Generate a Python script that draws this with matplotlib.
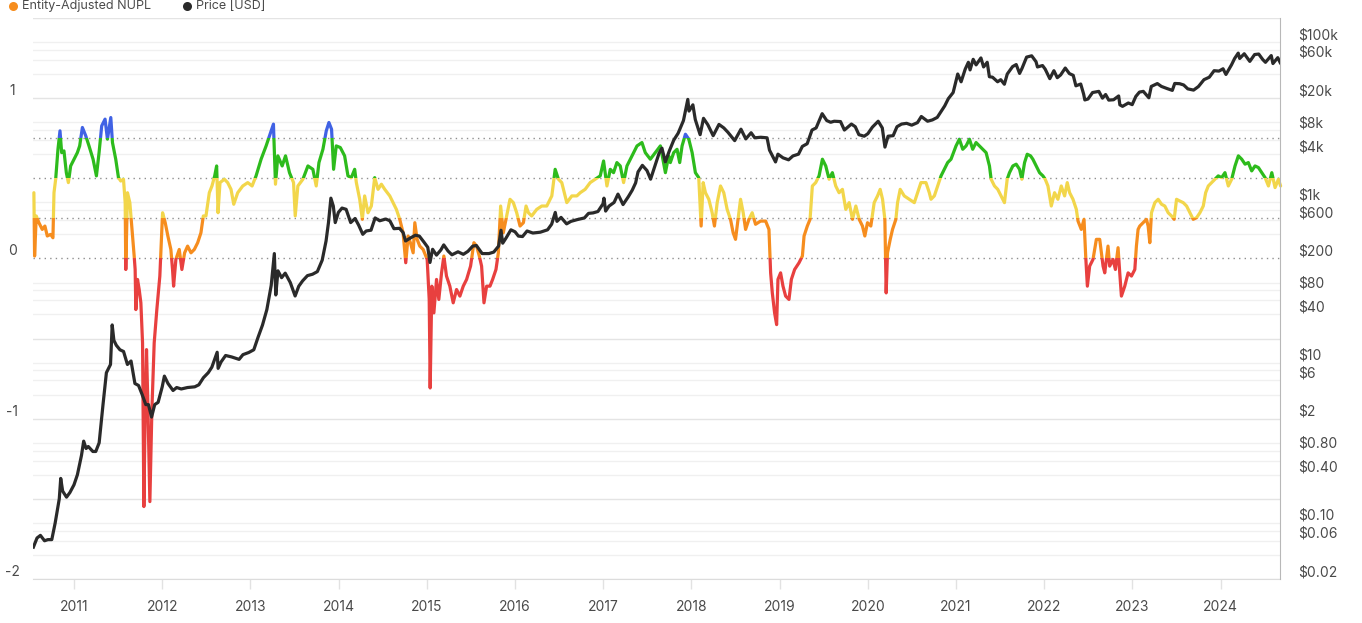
import numpy as np
import pandas as pd
import matplotlib
matplotlib.use("Agg")
import matplotlib.pyplot as plt
from matplotlib.patches import Rectangle
from matplotlib.lines import Line2D
from matplotlib.ticker import FixedLocator, FixedFormatter, NullLocator

plt.rcParams['font.family'] = ['Inter', 'DejaVu Sans']

# ---- Entity-Adjusted NUPL (decimal year, value) ----
nupl_year = [
    2010.545, 2010.553, 2010.572, 2010.602, 2010.640, 2010.670, 2010.697, 2010.735, 2010.761, 2010.773,
    2010.792, 2010.818, 2010.841, 2010.860, 2010.886, 2010.913, 2010.936, 2010.962, 2011.000, 2011.038,
    2011.064, 2011.095, 2011.133, 2011.170, 2011.216, 2011.254, 2011.284, 2011.314, 2011.352, 2011.379,
    2011.417, 2011.436, 2011.473, 2011.504, 2011.530, 2011.561, 2011.580, 2011.587, 2011.606, 2011.633,
    2011.655, 2011.682, 2011.693, 2011.701, 2011.720, 2011.739, 2011.758, 2011.777, 2011.792, 2011.807,
    2011.822, 2011.837, 2011.860, 2011.883, 2011.909, 2011.939, 2011.973, 2012.004, 2012.034, 2012.064,
    2012.098, 2012.117, 2012.129, 2012.155, 2012.193, 2012.223, 2012.254, 2012.288, 2012.326, 2012.364,
    2012.402, 2012.439, 2012.466, 2012.496, 2012.534, 2012.564, 2012.595, 2012.617, 2012.633, 2012.655,
    2012.705, 2012.742, 2012.780, 2012.811, 2012.856, 2012.913, 2012.970, 2013.019, 2013.064, 2013.121,
    2013.178, 2013.223, 2013.261, 2013.284, 2013.311, 2013.360, 2013.398, 2013.443, 2013.489, 2013.508,
    2013.538, 2013.595, 2013.652, 2013.708, 2013.746, 2013.777, 2013.822, 2013.860, 2013.890, 2013.920,
    2013.943, 2013.973, 2014.019, 2014.068, 2014.106,
    2014.144, 2014.182, 2014.201, 2014.239, 2014.269, 2014.295, 2014.333, 2014.371, 2014.409, 2014.447,
    2014.485, 2014.523, 2014.580, 2014.617, 2014.655, 2014.693, 2014.731, 2014.761, 2014.788, 2014.814,
    2014.845, 2014.864, 2014.890, 2014.920, 2014.958, 2015.004, 2015.027, 2015.038, 2015.057, 2015.080,
    2015.110, 2015.136, 2015.167, 2015.193, 2015.223, 2015.261, 2015.299, 2015.337, 2015.375, 2015.413,
    2015.451, 2015.496, 2015.534, 2015.564, 2015.595, 2015.621, 2015.648, 2015.678, 2015.716, 2015.746,
    2015.784, 2015.811, 2015.837, 2015.867, 2015.905, 2015.943, 2015.981, 2016.019, 2016.057, 2016.095,
    2016.125, 2016.152, 2016.189, 2016.246, 2016.303, 2016.360, 2016.417, 2016.455, 2016.492, 2016.530,
    2016.587, 2016.644, 2016.701, 2016.739, 2016.795, 2016.852, 2016.909, 2016.966, 2017.004, 2017.042,
    2017.080, 2017.117, 2017.155, 2017.193, 2017.231, 2017.269, 2017.326, 2017.383, 2017.439, 2017.477,
    2017.534, 2017.591, 2017.648, 2017.705, 2017.742,
    2017.761, 2017.799, 2017.837, 2017.867, 2017.894, 2017.932, 2017.970, 2018.008, 2018.045, 2018.083,
    2018.110, 2018.133, 2018.159, 2018.197, 2018.235, 2018.261, 2018.292, 2018.330, 2018.367, 2018.405,
    2018.443, 2018.473, 2018.500, 2018.519, 2018.557, 2018.587, 2018.614, 2018.652, 2018.689, 2018.727,
    2018.784, 2018.841, 2018.879, 2018.898, 2018.917, 2018.943, 2018.966, 2018.981, 2019.011, 2019.038,
    2019.068, 2019.106, 2019.133, 2019.170, 2019.220, 2019.258, 2019.277, 2019.314, 2019.345, 2019.371,
    2019.409, 2019.447, 2019.485, 2019.523, 2019.561, 2019.598, 2019.636, 2019.674, 2019.712, 2019.750,
    2019.788, 2019.826, 2019.864, 2019.902, 2019.939, 2019.966, 2019.996, 2020.034, 2020.072, 2020.110,
    2020.140, 2020.167, 2020.193, 2020.208, 2020.223, 2020.254, 2020.280, 2020.318, 2020.337, 2020.367,
    2020.413, 2020.470, 2020.527, 2020.564, 2020.602, 2020.659, 2020.697, 2020.716, 2020.754, 2020.792,
    2020.830, 2020.867, 2020.905, 2020.943, 2021.000, 2021.038, 2021.076, 2021.114, 2021.152, 2021.189,
    2021.227, 2021.265, 2021.303, 2021.341, 2021.379,
    2021.398, 2021.436, 2021.473, 2021.511, 2021.549, 2021.580, 2021.606, 2021.644, 2021.682, 2021.720,
    2021.746, 2021.777, 2021.807, 2021.845, 2021.871, 2021.909, 2021.947, 2021.985, 2022.011, 2022.042,
    2022.080, 2022.117, 2022.155, 2022.193, 2022.231, 2022.261, 2022.288, 2022.326, 2022.364, 2022.383,
    2022.420, 2022.451, 2022.470, 2022.489, 2022.515, 2022.553, 2022.591, 2022.629, 2022.667, 2022.686,
    2022.723, 2022.742, 2022.780, 2022.807, 2022.837, 2022.856, 2022.875, 2022.913, 2022.951, 2022.989,
    2023.027, 2023.045, 2023.064, 2023.083, 2023.121, 2023.159, 2023.178, 2023.197, 2023.216, 2023.254,
    2023.292, 2023.330, 2023.367, 2023.405, 2023.443, 2023.473, 2023.500, 2023.538, 2023.576, 2023.614,
    2023.652, 2023.689, 2023.727, 2023.765, 2023.803, 2023.830, 2023.860, 2023.898, 2023.936, 2023.973,
    2024.011, 2024.049, 2024.087, 2024.125, 2024.163, 2024.201, 2024.239, 2024.277, 2024.314, 2024.352,
    2024.390, 2024.428, 2024.466, 2024.504, 2024.542, 2024.580, 2024.617, 2024.655, 2024.680,
]
nupl_value = [
    0.41, 0.015, 0.265, 0.223, 0.181, 0.202, 0.140, 0.150, 0.129, 0.41,
    0.494, 0.681, 0.796, 0.660, 0.671, 0.535, 0.473, 0.577, 0.619, 0.660,
    0.702, 0.817, 0.765, 0.702, 0.619, 0.515, 0.660, 0.827, 0.869, 0.744,
    0.879, 0.723, 0.619, 0.504, 0.483, 0.494, 0.348, -0.069, 0.41, 0.348,
    0.202, 0.015, -0.069, -0.319, -0.131, -0.194, -0.277, -0.527, -1.548, -0.944,
    -0.569, -0.902, -1.517, -0.944, -0.527, -0.319, -0.110, 0.285, 0.223, 0.140,
    0.056, -0.069, -0.173, -0.006, 0.056, -0.069, 0.035, 0.077, 0.035, 0.056,
    0.098, 0.160, 0.265, 0.265, 0.41, 0.452, 0.515, 0.577, 0.285, 0.473,
    0.494, 0.473, 0.431, 0.338, 0.41, 0.452, 0.473, 0.452, 0.515, 0.619,
    0.702, 0.775, 0.838, 0.463, 0.640, 0.577, 0.640, 0.535, 0.473, 0.265,
    0.452, 0.494, 0.577, 0.556, 0.452, 0.598, 0.681, 0.796, 0.848, 0.806,
    0.556, 0.702, 0.692, 0.640, 0.515,
    0.504, 0.556, 0.473, 0.369, 0.244, 0.390, 0.285, 0.327, 0.504, 0.431,
    0.463, 0.431, 0.390, 0.348, 0.306, 0.244, 0.160, -0.027, 0.140, 0.098,
    0.035, 0.223, 0.119, 0.077, 0.056, -0.006, -0.256, -0.808, -0.173, -0.340,
    -0.131, -0.256, -0.090, 0.015, -0.110, -0.173, -0.277, -0.194, -0.235, -0.173,
    -0.131, -0.048, 0.098, 0.077, 0.015, -0.048, -0.277, -0.173, -0.173, -0.131,
    -0.069, 0.035, 0.327, 0.160, 0.265, 0.369, 0.348, 0.285, 0.202, 0.223,
    0.327, 0.285, 0.265, 0.306, 0.327, 0.327, 0.390, 0.556, 0.494, 0.473,
    0.348, 0.390, 0.390, 0.410, 0.431, 0.473, 0.494, 0.515, 0.608, 0.452,
    0.556, 0.535, 0.598, 0.577, 0.473, 0.577, 0.640, 0.702, 0.723, 0.660,
    0.619, 0.660, 0.702, 0.535, 0.640,
    0.598, 0.660, 0.681, 0.598, 0.702, 0.775, 0.744, 0.660, 0.535, 0.504,
    0.202, 0.473, 0.410, 0.369, 0.285, 0.202, 0.348, 0.452, 0.410, 0.306,
    0.244, 0.160, 0.119, 0.202, 0.369, 0.285, 0.181, 0.244, 0.285, 0.213,
    0.233, 0.233, 0.181, -0.090, -0.215, -0.340, -0.413, -0.131, -0.090, -0.173,
    -0.235, -0.256, -0.131, -0.069, -0.027, 0.015, 0.140, 0.202, 0.244, 0.452,
    0.473, 0.515, 0.619, 0.577, 0.494, 0.535, 0.452, 0.410, 0.431, 0.306,
    0.348, 0.244, 0.327, 0.244, 0.202, 0.140, 0.223, 0.202, 0.348, 0.390,
    0.431, 0.369, 0.244, -0.215, 0.035, 0.119, 0.181, 0.244, 0.348, 0.431,
    0.390, 0.369, 0.348, 0.410, 0.473, 0.473, 0.410, 0.369, 0.390, 0.452,
    0.515, 0.556, 0.598, 0.619, 0.702, 0.744, 0.681, 0.702, 0.744, 0.681,
    0.723, 0.702, 0.681, 0.660, 0.577,
    0.494, 0.452, 0.431, 0.390, 0.348, 0.494, 0.535, 0.577, 0.588, 0.556,
    0.494, 0.598, 0.650, 0.640, 0.619, 0.577, 0.535, 0.515, 0.494, 0.452,
    0.327, 0.410, 0.369, 0.452, 0.390, 0.473, 0.410, 0.369, 0.306, 0.233,
    0.181, 0.244, 0.015, -0.173, -0.048, -0.006, 0.119, 0.119, -0.048, -0.090,
    0.077, -0.048, -0.006, -0.069, 0.067, -0.090, -0.235, -0.173, -0.090, -0.110,
    -0.069, 0.077, 0.181, 0.202, 0.223, 0.244, 0.202, 0.098, 0.285, 0.348,
    0.369, 0.338, 0.327, 0.285, 0.265, 0.244, 0.369, 0.358, 0.348, 0.327,
    0.285, 0.244, 0.254, 0.285, 0.327, 0.410, 0.452, 0.473, 0.494, 0.515,
    0.504, 0.535, 0.452, 0.494, 0.577, 0.640, 0.619, 0.588, 0.598, 0.546,
    0.577, 0.567, 0.535, 0.504, 0.452, 0.535, 0.442, 0.494, 0.452,
]

# ---- Price [USD] ----
price_date = [
    '2010-07-17', '2010-08-01', '2010-08-15', '2010-09-01', '2010-09-15', '2010-10-01', '2010-10-15', '2010-11-01',
    '2010-11-07', '2010-11-15', '2010-12-01', '2010-12-15', '2011-01-01', '2011-01-15', '2011-02-01', '2011-02-10',
    '2011-02-20', '2011-03-01', '2011-03-20', '2011-04-01', '2011-04-15', '2011-05-01', '2011-05-15', '2011-06-01',
    '2011-06-08', '2011-06-15', '2011-06-25', '2011-07-10', '2011-07-25', '2011-08-10', '2011-08-25', '2011-09-10',
    '2011-09-25', '2011-10-10', '2011-10-25', '2011-11-05', '2011-11-18', '2011-12-01', '2011-12-15', '2012-01-01',
    '2012-01-10', '2012-01-25', '2012-02-15', '2012-03-01', '2012-03-20', '2012-04-15', '2012-05-15', '2012-06-01',
    '2012-06-20', '2012-07-10', '2012-07-25', '2012-08-16', '2012-08-20', '2012-09-01', '2012-09-20', '2012-10-15',
    '2012-11-15', '2012-12-01', '2012-12-25', '2013-01-15', '2013-02-01', '2013-02-20', '2013-03-10', '2013-03-28',
    '2013-04-10', '2013-04-16', '2013-04-25', '2013-05-10', '2013-05-25', '2013-06-15', '2013-07-05', '2013-07-20',
    '2013-08-05', '2013-08-25', '2013-09-15', '2013-10-05', '2013-10-25', '2013-11-10', '2013-11-20', '2013-11-30',
    '2013-12-10', '2013-12-18', '2013-12-31', '2014-01-15', '2014-02-01', '2014-02-20', '2014-03-10', '2014-03-25',
    '2014-04-11', '2014-04-25', '2014-05-15', '2014-06-01', '2014-06-20', '2014-07-15', '2014-08-01', '2014-08-18',
    '2014-09-10', '2014-09-25', '2014-10-05', '2014-10-25', '2014-11-15', '2014-12-01', '2014-12-20', '2015-01-05',
    '2015-01-14', '2015-01-25', '2015-02-10', '2015-02-28', '2015-03-12', '2015-03-30', '2015-04-15', '2015-05-10',
    '2015-06-01', '2015-06-20', '2015-07-10', '2015-07-25', '2015-08-18', '2015-09-15', '2015-10-05', '2015-10-25',
    '2015-11-04', '2015-11-11', '2015-11-25', '2015-12-15', '2016-01-01', '2016-01-15', '2016-02-01', '2016-02-20',
    '2016-03-15', '2016-04-15', '2016-05-15', '2016-06-01', '2016-06-16', '2016-06-23', '2016-07-10', '2016-08-02',
    '2016-08-20', '2016-09-15', '2016-10-15', '2016-11-01', '2016-11-20', '2016-12-10', '2016-12-31', '2017-01-04',
    '2017-01-11', '2017-01-25', '2017-02-15', '2017-03-03', '2017-03-24', '2017-04-15', '2017-05-01', '2017-05-15',
    '2017-05-25', '2017-06-12', '2017-07-01', '2017-07-16', '2017-08-01', '2017-08-20', '2017-09-01', '2017-09-15',
    '2017-10-01', '2017-10-20', '2017-11-07', '2017-11-29', '2017-12-17', '2017-12-22', '2018-01-07', '2018-01-17',
    '2018-02-06', '2018-02-20', '2018-03-10', '2018-04-01', '2018-04-25', '2018-05-15', '2018-06-01', '2018-06-29',
    '2018-07-25', '2018-08-14', '2018-09-05', '2018-09-20', '2018-10-15', '2018-11-10', '2018-11-20', '2018-12-15',
    '2018-12-25', '2019-01-15', '2019-02-07', '2019-02-25', '2019-03-20', '2019-04-05', '2019-04-25', '2019-05-15',
    '2019-06-01', '2019-06-26', '2019-07-15', '2019-07-31', '2019-08-15', '2019-09-10', '2019-09-26', '2019-10-25',
    '2019-11-10', '2019-11-25', '2019-12-17', '2020-01-01', '2020-01-20', '2020-02-13', '2020-03-01', '2020-03-12',
    '2020-03-25', '2020-04-15', '2020-05-01', '2020-05-20', '2020-06-10', '2020-07-01', '2020-07-25', '2020-08-10',
    '2020-09-05', '2020-09-25', '2020-10-15', '2020-10-30', '2020-11-15', '2020-11-30', '2020-12-20', '2021-01-08',
    '2021-01-22', '2021-02-08', '2021-02-21', '2021-02-28', '2021-03-13', '2021-03-25', '2021-04-14', '2021-04-25',
    '2021-05-10', '2021-05-19', '2021-06-01', '2021-06-22', '2021-07-05', '2021-07-20', '2021-08-01', '2021-08-23',
    '2021-09-07', '2021-09-21', '2021-10-01', '2021-10-20', '2021-11-10', '2021-11-28', '2021-12-04', '2021-12-25',
    '2022-01-05', '2022-01-24', '2022-02-10', '2022-02-24', '2022-03-10', '2022-03-29', '2022-04-15', '2022-05-01',
    '2022-05-12', '2022-06-01', '2022-06-13', '2022-06-18', '2022-07-01', '2022-07-20', '2022-08-15', '2022-08-30',
    '2022-09-12', '2022-09-25', '2022-10-15', '2022-11-05', '2022-11-10', '2022-11-21', '2022-12-15', '2022-12-31',
    '2023-01-15', '2023-01-30', '2023-02-15', '2023-03-10', '2023-03-20', '2023-04-14', '2023-05-01', '2023-05-25',
    '2023-06-15', '2023-06-25', '2023-07-15', '2023-08-01', '2023-08-18', '2023-09-11', '2023-10-01', '2023-10-24',
    '2023-11-15', '2023-12-05', '2023-12-25', '2024-01-11', '2024-01-23', '2024-02-15', '2024-02-28', '2024-03-14',
    '2024-03-20', '2024-04-08', '2024-04-20', '2024-05-01', '2024-05-21', '2024-06-07', '2024-06-24', '2024-07-05',
    '2024-07-29', '2024-08-05', '2024-08-25', '2024-09-06', '2024-09-10',
]
price_usd = [
    0.05, 0.065, 0.07, 0.06, 0.062, 0.062, 0.10, 0.2,
    0.36, 0.25, 0.21, 0.24, 0.30, 0.40, 0.7, 1.05,
    0.85, 0.90, 0.78, 0.78, 1.0, 3.0, 7.5, 9.5,
    29.6, 19.0, 16.5, 14.5, 13.8, 9.5, 10.5, 5.5,
    5.2, 4.0, 3.0, 3.0, 2.1, 3.0, 3.2, 5.0,
    6.8, 5.5, 4.5, 4.9, 4.7, 4.9, 5.0, 5.3,
    6.5, 7.5, 8.8, 13.5, 8.5, 10.2, 12.3, 11.8,
    11.0, 12.6, 13.4, 14.5, 20.5, 29.5, 46, 92,
    230, 70, 140, 115, 131, 100, 68, 90,
    105, 122, 127, 137, 190, 330, 560, 1130,
    900, 560, 750, 850, 820, 560, 630, 520,
    400, 440, 450, 640, 590, 620, 590, 470,
    475, 420, 330, 360, 390, 380, 320, 275,
    178, 260, 220, 255, 295, 247, 222, 242,
    225, 245, 285, 290, 230, 230, 240, 285,
    450, 310, 360, 455, 430, 380, 375, 440,
    415, 425, 455, 535, 750, 580, 650, 540,
    580, 610, 640, 730, 740, 770, 960, 1130,
    780, 900, 1000, 1270, 940, 1180, 1420, 1750,
    2400, 2900, 2500, 1950, 2750, 4100, 4750, 3200,
    4350, 6000, 7300, 10500, 19300, 13800, 16500, 10800,
    7000, 11200, 9300, 6800, 9400, 8500, 7500, 5900,
    8200, 6200, 7400, 6400, 6500, 6400, 4500, 3200,
    4000, 3600, 3400, 3800, 4000, 5000, 5400, 8000,
    8500, 12800, 10500, 10000, 10300, 10200, 8000, 9500,
    8800, 7000, 6700, 7200, 8700, 10300, 8500, 4900,
    6700, 6800, 8800, 9500, 9700, 9200, 9900, 11800,
    10300, 10700, 11500, 13500, 16000, 19700, 23500, 40000,
    32000, 46000, 56000, 45000, 61000, 52000, 63500, 49000,
    56000, 37000, 36500, 32000, 34000, 29800, 40000, 49500,
    52500, 40700, 47000, 65000, 67500, 57000, 49000, 51000,
    46000, 35000, 44000, 36000, 39000, 47500, 40500, 38500,
    28500, 30000, 22500, 19000, 19500, 23500, 24300, 20000,
    22200, 18900, 19100, 21300, 16500, 15800, 17400, 16600,
    21000, 23800, 24300, 20200, 28000, 30400, 28000, 26300,
    25000, 30500, 30300, 29200, 26100, 25200, 27900, 34000,
    36500, 44000, 43500, 46500, 39500, 52000, 62500, 73000,
    62500, 71600, 64000, 57500, 70000, 71000, 60500, 56000,
    68000, 54000, 64000, 54000, 57500,
]

years = list(range(2011, 2025))
nupl_ticks = [-2, -1, 0, 1]
price_ticks = [0.02, 0.06, 0.1, 0.4, 0.8, 2, 6, 10, 40, 80, 200, 600,
               1000, 4000, 8000, 20000, 60000, 100000]
price_labels = ['$0.02', '$0.06', '$0.10', '$0.40', '$0.80', '$2', '$6', '$10', '$40', '$80',
                '$200', '$600', '$1k', '$4k', '$8k', '$20k', '$60k', '$100k']

# colour zones of the NUPL line
zones = [(-3.0, 0.0, '#e8403f'), (0.0, 0.25, '#f68d1e'), (0.25, 0.5, '#f2d64b'),
         (0.5, 0.75, '#2dbb1c'), (0.75, 3.0, '#4062e4')]


def to_year(dates):
    d = pd.to_datetime(dates)
    days = np.where(d.is_leap_year, 366.0, 365.0)
    return np.asarray(d.year + (d.dayofyear - 1) / days)


price_x = to_year(price_date)

fig = plt.figure(figsize=(13.62, 6.23), dpi=100)
ax = fig.add_axes([33 / 1362, 44 / 623, 1247 / 1362, 561 / 623])
ax.set_xlim(2010.535, 2024.673)
ax.set_ylim(-2, 1.5)


# NUPL and log price share the grid: price = 200 * 100**nupl
def price_to_nupl(p):
    return np.log10(p / 200.0) / 2.0


for e in range(-2, 6):
    for k in (1, 4, 6, 8):
        p = k * 10.0 ** e
        if 0.02 < p < 200000:
            ax.axhline(price_to_nupl(p), color='#f0f0f0', lw=1, zorder=0)
for v in (-2, -1.5, -1, -0.5, 1, 1.5):
    ax.axhline(v, color='#e4e4e4', lw=1, zorder=0.5)
for v in (0, 0.25, 0.5, 0.75):
    ax.axhline(v, color='#8f8f8f', lw=1, ls=(0, (1, 3)), zorder=1)

for lo, hi, c in zones:
    ln, = ax.plot(nupl_year, nupl_value, color=c, lw=2.3,
                  solid_joinstyle='round', solid_capstyle='round', zorder=3)
    ln.set_clip_path(Rectangle((2009, lo), 20, hi - lo, transform=ax.transData))

ax2 = ax.twinx()
ax2.set_yscale('log')
ax2.set_ylim(0.02, 200000)
ax2.plot(price_x, price_usd, color='#2a2a2a', lw=2.3, solid_joinstyle='round', zorder=4)

# spines
for s in ('left', 'top', 'right'):
    ax.spines[s].set_visible(False)
ax.spines['bottom'].set_color('#dcdcdc')
for s in ('left', 'top', 'bottom'):
    ax2.spines[s].set_visible(False)
ax2.spines['right'].set_color('#b8b8b8')

# ticks
ax.set_xticks(years)
ax.set_xticklabels([str(y) for y in years])
ax.tick_params(axis='x', length=7, width=1, color='#e2e2e2', pad=8,
               labelsize=10, labelcolor='#4a4a4a')
ax.set_yticks(nupl_ticks)
ax.set_yticklabels([str(v) for v in nupl_ticks])
ax.tick_params(axis='y', length=0, pad=15, labelsize=10, labelcolor='#4a4a4a')
for t in ax.get_yticklabels():
    t.set_ha('center')
    t.set_va('bottom')

ax2.yaxis.set_major_locator(FixedLocator(price_ticks))
ax2.yaxis.set_major_formatter(FixedFormatter(price_labels))
ax2.yaxis.set_minor_locator(NullLocator())
ax2.tick_params(axis='y', which='both', length=0, pad=13, labelsize=10, labelcolor='#4a4a4a')
for t in ax2.get_yticklabels():
    t.set_va('bottom')

# legend on top
fig.add_artist(Line2D([13 / 1362], [1 - 6 / 623], marker='o', ms=6.5, color='#f68d1e',
                      markeredgewidth=0, transform=fig.transFigure))
fig.text(22 / 1362, 1 - 6 / 623, 'Entity-Adjusted NUPL', fontsize=9, color='#4a4a4a',
         va='center', ha='left')
fig.add_artist(Line2D([187 / 1362], [1 - 6 / 623], marker='o', ms=6.5, color='#2a2a2a',
                      markeredgewidth=0, transform=fig.transFigure))
fig.text(196 / 1362, 1 - 6 / 623, 'Price [USD]', fontsize=9, color='#4a4a4a',
         va='center', ha='left')

fig.savefig('out.png', dpi=100, facecolor='white')
